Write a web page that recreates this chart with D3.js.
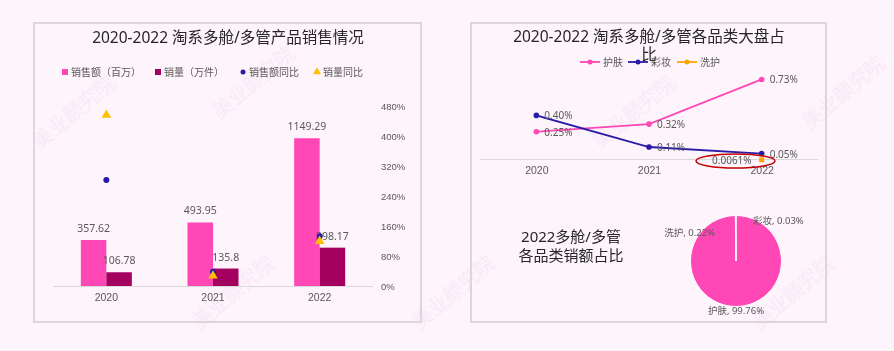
<!DOCTYPE html>
<html>
<head>
<meta charset="utf-8">
<script src="https://cdn.jsdelivr.net/npm/d3@7"></script>
<style>
body { margin: 0; background: #fdf4fc; }
svg { display: block; font-family: "Noto Sans", "Noto Sans CJK SC", sans-serif; }
</style>
</head>
<body>
<svg width="894" height="351"></svg>
<script>
// left chart data
const years = ["2020", "2021", "2022"];
const salesAmt = [357.62, 493.95, 1149.29];   // 销售额（百万）
const salesVol = [106.78, 135.8, 298.17];     // 销量（万件）
const amtYoY = [283, 38.1, 132.7];            // 销售额同比 %
const volYoY = [456, 27.2, 119.6];            // 销量同比 %
const pctTicks = [0, 80, 160, 240, 320, 400, 480];

// right top data (大盘占比 %)
const skinShare = [0.25, 0.32, 0.73];
const makeupShare = [0.40, 0.11, 0.05];
const hairShare = [null, null, 0.0061];

// pie data 2022
const pieNames = ["彩妆", "护肤", "洗护"];
const pieVals = [0.03, 99.76, 0.22];

const PINK = "#ff47b5", DARK = "#a3005f", NAVY = "#2a1aa8", GOLD = "#ffc000", ORANGE = "#ffa500";
const GRAY = "#595959";

const svg = d3.select("svg");

// faint watermarks
const wm = svg.append("g").attr("fill", "#f6d9ec").attr("opacity", 0.45)
  .attr("font-size", 20);
[[40, 150], [200, 330], [220, 120], [420, 330], [600, 150], [760, 330], [810, 130]].forEach(([x, y]) => {
  wm.append("text").attr("transform", `translate(${x},${y}) rotate(-40)`).text("美业颜究院");
});

// panels
svg.append("rect").attr("x", 34).attr("y", 23).attr("width", 387).attr("height", 299)
  .attr("fill", "none").attr("stroke", "#dcd6dc").attr("stroke-width", 2);
svg.append("rect").attr("x", 471).attr("y", 23).attr("width", 355).attr("height", 299)
  .attr("fill", "none").attr("stroke", "#dcd6dc").attr("stroke-width", 2);

// ---------- left: bars + yoy ----------
const x = d3.scaleBand().domain(years).range([53, 373]);
const yL = d3.scaleLinear().domain([0, 1400]).range([286, 106]);
const yR = d3.scaleLinear().domain([0, 480]).range([286, 106]);
const bw = 25.5;

svg.append("text").attr("x", 228).attr("y", 43).attr("text-anchor", "middle")
  .attr("font-size", 15.5).attr("fill", "#262626").text("2020-2022 淘系多舱/多管产品销售情况");

const yAxis = svg.append("g").attr("transform", "translate(375,0)")
  .call(d3.axisRight(yR).tickValues(pctTicks).tickFormat(d => d + "%").tickSize(0).tickPadding(6));
yAxis.select(".domain").remove();
yAxis.selectAll("text").attr("fill", GRAY).attr("font-size", 9.5).attr("font-family", null);

svg.append("line").attr("x1", 53).attr("x2", 373).attr("y1", 286.5).attr("y2", 286.5)
  .attr("stroke", "#d9d9d9");

const xAxis = svg.append("g").attr("transform", "translate(0,286)")
  .call(d3.axisBottom(x).tickSize(0).tickPadding(8));
xAxis.select(".domain").remove();
xAxis.selectAll("text").attr("fill", GRAY).attr("font-size", 10.5).attr("font-family", null);

const mid = d => x(d) + x.bandwidth() / 2;

svg.selectAll(".amt").data(years).join("rect")
  .attr("x", d => mid(d) - bw).attr("width", bw)
  .attr("y", (d, i) => yL(salesAmt[i])).attr("height", (d, i) => yL(0) - yL(salesAmt[i]))
  .attr("fill", PINK);
svg.selectAll(".vol").data(years).join("rect")
  .attr("x", d => mid(d)).attr("width", bw)
  .attr("y", (d, i) => yL(salesVol[i])).attr("height", (d, i) => yL(0) - yL(salesVol[i]))
  .attr("fill", DARK);

svg.selectAll(".amtLbl").data(years).join("text")
  .attr("x", d => mid(d) - bw / 2).attr("y", (d, i) => yL(salesAmt[i]) - 8)
  .attr("text-anchor", "middle").attr("font-size", 10.5).attr("fill", GRAY)
  .text((d, i) => salesAmt[i]);
svg.selectAll(".volLbl").data(years).join("text")
  .attr("x", d => mid(d) + bw / 2).attr("y", (d, i) => yL(salesVol[i]) - 8)
  .attr("text-anchor", "middle").attr("font-size", 10.5).attr("fill", GRAY)
  .text((d, i) => salesVol[i]);

svg.selectAll(".dot").data(years).join("circle")
  .attr("cx", mid).attr("cy", (d, i) => yR(amtYoY[i])).attr("r", 3).attr("fill", NAVY);
svg.selectAll(".tri").data(years).join("path")
  .attr("transform", (d, i) => `translate(${mid(d)},${yR(volYoY[i])})`)
  .attr("d", d3.symbol(d3.symbolTriangle, 40)).attr("fill", GOLD);

// legend
const lg = svg.append("g").attr("font-size", 10).attr("fill", GRAY);
const legItems = [
  { t: "销售额（百万）", x: 62, kind: "sq", c: PINK },
  { t: "销量（万件）", x: 155, kind: "sq", c: DARK },
  { t: "销售额同比", x: 240, kind: "dot", c: NAVY },
  { t: "销量同比", x: 314, kind: "tri", c: GOLD }
];
legItems.forEach(it => {
  if (it.kind === "sq") lg.append("rect").attr("x", it.x).attr("y", 69).attr("width", 6).attr("height", 6).attr("fill", it.c);
  else if (it.kind === "dot") lg.append("circle").attr("cx", it.x + 3).attr("cy", 72).attr("r", 2.5).attr("fill", it.c);
  else lg.append("path").attr("transform", `translate(${it.x + 3},72)`).attr("d", d3.symbol(d3.symbolTriangle, 28)).attr("fill", it.c);
  lg.append("text").attr("x", it.x + 9).attr("y", 75.5).text(it.t);
});

// ---------- right top: share lines ----------
svg.append("text").attr("x", 649).attr("y", 42).attr("text-anchor", "middle")
  .attr("font-size", 15.5).attr("fill", "#262626").text("2020-2022 淘系多舱/多管各品类大盘占");
svg.append("text").attr("x", 649).attr("y", 60).attr("text-anchor", "middle")
  .attr("font-size", 15.5).attr("fill", "#262626").text("比");

const xp = d3.scalePoint().domain(years).range([480, 818]).padding(0.5);
const ys = d3.scaleLinear().domain([0, 0.8]).range([159, 71.8]);

svg.append("line").attr("x1", 480).attr("x2", 818).attr("y1", 159.5).attr("y2", 159.5).attr("stroke", "#d9d9d9");
const xa2 = svg.append("g").attr("transform", "translate(0,159)")
  .call(d3.axisBottom(xp).tickSize(0).tickPadding(8));
xa2.select(".domain").remove();
xa2.selectAll("text").attr("fill", GRAY).attr("font-size", 10.5).attr("font-family", null);

const series = [
  { name: "护肤", vals: skinShare, c: PINK },
  { name: "彩妆", vals: makeupShare, c: NAVY },
  { name: "洗护", vals: hairShare, c: ORANGE }
];
const line = d3.line().defined(d => d.v != null).x(d => xp(d.y)).y(d => ys(d.v));
series.forEach(s => {
  const pts = years.map((y, i) => ({ y, v: s.vals[i] }));
  svg.append("path").datum(pts).attr("d", line).attr("fill", "none").attr("stroke", s.c).attr("stroke-width", 1.8);
  const ok = pts.filter(d => d.v != null);
  if (s.name === "洗护") {
    svg.selectAll(null).data(ok).join("rect")
      .attr("x", d => xp(d.y) - 2.5).attr("y", d => ys(d.v) - 1).attr("width", 5).attr("height", 5).attr("fill", s.c);
    svg.selectAll(null).data(ok).join("text")
      .attr("x", d => xp(d.y) - 10).attr("y", d => ys(d.v) + 6).attr("text-anchor", "end")
      .attr("font-size", 10).attr("fill", GRAY).text(d => d.v + "%");
  } else {
    svg.selectAll(null).data(ok).join("circle")
      .attr("cx", d => xp(d.y)).attr("cy", d => ys(d.v)).attr("r", 2.8).attr("fill", s.c);
    svg.selectAll(null).data(ok).join("text")
      .attr("x", d => xp(d.y) + 8).attr("y", d => ys(d.v) + 4)
      .attr("font-size", 10).attr("fill", GRAY).text(d => d3.format(".2f")(d.v) + "%");
  }
});

// red highlight ellipse
svg.append("ellipse").attr("cx", 735.5).attr("cy", 161).attr("rx", 39.5).attr("ry", 7)
  .attr("fill", "none").attr("stroke", "#c00000").attr("stroke-width", 1.5);

// legend
const lg2 = svg.append("g").attr("font-size", 10).attr("fill", GRAY);
[{ s: series[0], x: 580 }, { s: series[1], x: 628 }, { s: series[2], x: 677 }].forEach(({ s, x }) => {
  lg2.append("line").attr("x1", x).attr("x2", x + 20).attr("y1", 62).attr("y2", 62).attr("stroke", s.c).attr("stroke-width", 1.8);
  lg2.append("circle").attr("cx", x + 10).attr("cy", 62).attr("r", 2.5).attr("fill", s.c);
  lg2.append("text").attr("x", x + 23).attr("y", 65.5).text(s.name);
});

// ---------- right bottom: pie ----------
svg.append("text").attr("x", 571).attr("y", 242).attr("text-anchor", "middle")
  .attr("font-size", 15).attr("fill", "#262626").text("2022多舱/多管");
svg.append("text").attr("x", 571).attr("y", 261).attr("text-anchor", "middle")
  .attr("font-size", 15).attr("fill", "#262626").text("各品类销额占比");

const pcx = 736, pcy = 261, R = 45.5;
const pieData = d3.pie().sort(null)(pieVals);
const arc = d3.arc().innerRadius(0).outerRadius(R);
const pg = svg.append("g").attr("transform", `translate(${pcx},${pcy})`);
pg.selectAll("path").data(pieData).join("path")
  .attr("d", arc).attr("fill", PINK).attr("stroke", "#fff").attr("stroke-width", 1);

// labels (Excel best-fit style)
const lblOffset = [[17, -37, "start"], [0, 53, "middle"], [-21, -25, "end"]];
pg.selectAll("text").data(pieData).join("text")
  .attr("x", (d, i) => lblOffset[i][0]).attr("y", (d, i) => lblOffset[i][1])
  .attr("text-anchor", (d, i) => lblOffset[i][2])
  .attr("font-size", 9.5).attr("fill", GRAY)
  .text((d, i) => `${pieNames[i]}, ${d3.format(".2f")(d.data)}%`);
</script>
</body>
</html>
